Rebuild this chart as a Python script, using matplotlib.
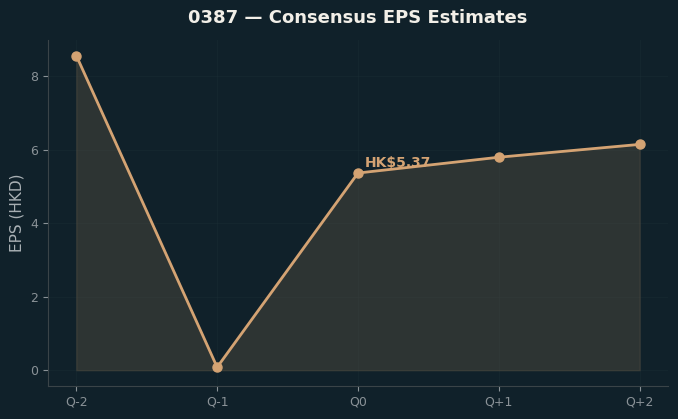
import matplotlib
matplotlib.use("Agg")
import matplotlib.pyplot as plt

quarters = ["Q-2", "Q-1", "Q0", "Q+1", "Q+2"]
eps = [8.57, 0.08, 5.37, 5.80, 6.15]
current_label = "HK$5.37"

bg = "#10212a"
accent = "#d4a373"
muted = "#8a9297"

fig, ax = plt.subplots(figsize=(6.78, 4.19), dpi=100)
fig.patch.set_facecolor(bg)
ax.set_facecolor(bg)

x = list(range(len(quarters)))
ax.fill_between(x, eps, 0, color="#524c40", alpha=0.45, edgecolor="#524c40", linewidth=1)
ax.plot(x, eps, color=accent, linewidth=2, marker="o", markersize=6.5, zorder=3)

ax.annotate(current_label, (2, eps[2]), xytext=(5, 4), textcoords="offset points",
            color=accent, fontsize=10, fontweight="bold")

ax.set_xticks(x)
ax.set_xticklabels(quarters)
ax.set_ylabel("EPS (HKD)", color="#a9b0b4", fontsize=11)
ax.set_title("0387 — Consensus EPS Estimates", color="#f2efe8", fontsize=13,
             fontweight="bold", pad=12)

ax.tick_params(colors=muted, labelsize=9)
for s in ["top", "right"]:
    ax.spines[s].set_visible(False)
for s in ["left", "bottom"]:
    ax.spines[s].set_color("#3a4448")
ax.grid(True, color="#1c2e36", linewidth=0.8, alpha=0.4)
ax.set_axisbelow(True)

plt.subplots_adjust(left=0.071, right=0.985, top=0.905, bottom=0.079)
plt.savefig("out.png", facecolor=bg)
